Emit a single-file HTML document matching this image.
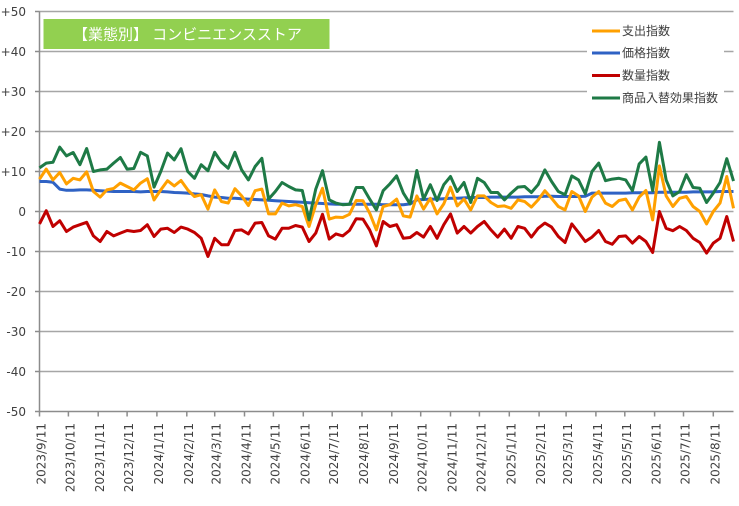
<!DOCTYPE html>
<html><head><meta charset="utf-8"><style>
html,body{margin:0;padding:0;background:#fff;}
svg{display:block;}
.yl{font-family:"DejaVu Sans","Liberation Sans",sans-serif;font-size:12px;fill:#404040;}
.xl{font-family:"DejaVu Sans","Liberation Sans",sans-serif;font-size:12px;fill:#404040;}
.lg{font-family:"Liberation Sans","Noto Sans CJK JP",sans-serif;font-size:12px;fill:#404040;}
</style></head><body>
<svg width="739" height="506" viewBox="0 0 739 506" xmlns="http://www.w3.org/2000/svg">
<rect width="739" height="506" fill="#fff"/>
<g stroke="#a6a6a6" stroke-width="1.5">
<line x1="39.5" y1="11.5" x2="733.5" y2="11.5"/>
<line x1="39.5" y1="51.5" x2="733.5" y2="51.5"/>
<line x1="39.5" y1="91.5" x2="733.5" y2="91.5"/>
<line x1="39.5" y1="131.5" x2="733.5" y2="131.5"/>
<line x1="39.5" y1="171.5" x2="733.5" y2="171.5"/>
<line x1="39.5" y1="211.5" x2="733.5" y2="211.5"/>
<line x1="39.5" y1="251.5" x2="733.5" y2="251.5"/>
<line x1="39.5" y1="291.5" x2="733.5" y2="291.5"/>
<line x1="39.5" y1="331.5" x2="733.5" y2="331.5"/>
<line x1="39.5" y1="371.5" x2="733.5" y2="371.5"/>
</g>
<g stroke="#8c8c8c" stroke-width="1.5">
<line x1="39.5" y1="411.5" x2="733.5" y2="411.5"/>
<line x1="39.5" y1="11.5" x2="39.5" y2="411.5"/>
<line x1="35" y1="11.5" x2="39.5" y2="11.5"/>
<line x1="35" y1="51.5" x2="39.5" y2="51.5"/>
<line x1="35" y1="91.5" x2="39.5" y2="91.5"/>
<line x1="35" y1="131.5" x2="39.5" y2="131.5"/>
<line x1="35" y1="171.5" x2="39.5" y2="171.5"/>
<line x1="35" y1="211.5" x2="39.5" y2="211.5"/>
<line x1="35" y1="251.5" x2="39.5" y2="251.5"/>
<line x1="35" y1="291.5" x2="39.5" y2="291.5"/>
<line x1="35" y1="331.5" x2="39.5" y2="331.5"/>
<line x1="35" y1="371.5" x2="39.5" y2="371.5"/>
<line x1="35" y1="411.5" x2="39.5" y2="411.5"/>
<line x1="39.5" y1="411.5" x2="39.5" y2="416.5"/>
<line x1="68.4" y1="411.5" x2="68.4" y2="416.5"/>
<line x1="98.2" y1="411.5" x2="98.2" y2="416.5"/>
<line x1="127.1" y1="411.5" x2="127.1" y2="416.5"/>
<line x1="156.9" y1="411.5" x2="156.9" y2="416.5"/>
<line x1="186.8" y1="411.5" x2="186.8" y2="416.5"/>
<line x1="214.7" y1="411.5" x2="214.7" y2="416.5"/>
<line x1="244.5" y1="411.5" x2="244.5" y2="416.5"/>
<line x1="273.4" y1="411.5" x2="273.4" y2="416.5"/>
<line x1="303.3" y1="411.5" x2="303.3" y2="416.5"/>
<line x1="332.2" y1="411.5" x2="332.2" y2="416.5"/>
<line x1="362.0" y1="411.5" x2="362.0" y2="416.5"/>
<line x1="391.8" y1="411.5" x2="391.8" y2="416.5"/>
<line x1="420.7" y1="411.5" x2="420.7" y2="416.5"/>
<line x1="450.5" y1="411.5" x2="450.5" y2="416.5"/>
<line x1="479.4" y1="411.5" x2="479.4" y2="416.5"/>
<line x1="509.3" y1="411.5" x2="509.3" y2="416.5"/>
<line x1="539.1" y1="411.5" x2="539.1" y2="416.5"/>
<line x1="566.1" y1="411.5" x2="566.1" y2="416.5"/>
<line x1="595.9" y1="411.5" x2="595.9" y2="416.5"/>
<line x1="624.8" y1="411.5" x2="624.8" y2="416.5"/>
<line x1="654.6" y1="411.5" x2="654.6" y2="416.5"/>
<line x1="683.5" y1="411.5" x2="683.5" y2="416.5"/>
<line x1="713.3" y1="411.5" x2="713.3" y2="416.5"/>
</g>
<g class="yl" text-anchor="end">
<text x="26" y="16">+50</text>
<text x="26" y="56">+40</text>
<text x="26" y="96">+30</text>
<text x="26" y="136">+20</text>
<text x="26" y="176">+10</text>
<text x="26" y="216">0</text>
<text x="26" y="256">-10</text>
<text x="26" y="296">-20</text>
<text x="26" y="336">-30</text>
<text x="26" y="376">-40</text>
<text x="26" y="416">-50</text>
</g>
<g class="xl" text-anchor="end">
<text transform="translate(45.5,423) rotate(-90)">2023/9/11</text>
<text transform="translate(74.4,423) rotate(-90)">2023/10/11</text>
<text transform="translate(104.2,423) rotate(-90)">2023/11/11</text>
<text transform="translate(133.1,423) rotate(-90)">2023/12/11</text>
<text transform="translate(162.9,423) rotate(-90)">2024/1/11</text>
<text transform="translate(192.8,423) rotate(-90)">2024/2/11</text>
<text transform="translate(220.7,423) rotate(-90)">2024/3/11</text>
<text transform="translate(250.5,423) rotate(-90)">2024/4/11</text>
<text transform="translate(279.4,423) rotate(-90)">2024/5/11</text>
<text transform="translate(309.3,423) rotate(-90)">2024/6/11</text>
<text transform="translate(338.2,423) rotate(-90)">2024/7/11</text>
<text transform="translate(368.0,423) rotate(-90)">2024/8/11</text>
<text transform="translate(397.8,423) rotate(-90)">2024/9/11</text>
<text transform="translate(426.7,423) rotate(-90)">2024/10/11</text>
<text transform="translate(456.5,423) rotate(-90)">2024/11/11</text>
<text transform="translate(485.4,423) rotate(-90)">2024/12/11</text>
<text transform="translate(515.3,423) rotate(-90)">2025/1/11</text>
<text transform="translate(545.1,423) rotate(-90)">2025/2/11</text>
<text transform="translate(572.1,423) rotate(-90)">2025/3/11</text>
<text transform="translate(601.9,423) rotate(-90)">2025/4/11</text>
<text transform="translate(630.8,423) rotate(-90)">2025/5/11</text>
<text transform="translate(660.6,423) rotate(-90)">2025/6/11</text>
<text transform="translate(689.5,423) rotate(-90)">2025/7/11</text>
<text transform="translate(719.3,423) rotate(-90)">2025/8/11</text>
</g>
<g transform="translate(39.5,211.5) scale(6.738,-4)" fill="none" stroke-width="3" stroke-linejoin="round">
<polyline vector-effect="non-scaling-stroke" stroke="#2f62c4" points="0,7.5 1,7.5 2,7.3 3,5.6 4,5.3 5,5.3 6,5.4 7,5.4 8,5.3 9,5.2 10,5.1 11,5 12,5 13,5 14,5 15,4.9 16,5 17,5 18,5 19,4.9 20,4.75 21,4.7 22,4.6 23,4.4 24,4.25 25,3.9 26,3.6 27,3.5 28,3.3 29,3.3 30,3.2 31,3.1 32,3 33,2.9 34,2.8 35,2.7 36,2.6 37,2.5 38,2.4 39,2.3 40,2.2 41,2.1 42,2 43,1.9 44,1.8 45,1.8 46,1.8 47,1.8 48,1.8 49,1.8 50,1.8 51,1.7 52,1.7 53,1.7 54,1.7 55,1.9 56,2.9 57,3 58,3.1 59,3.1 60,3.2 61,3.3 62,3.3 63,3.4 64,3.5 65,3.5 66,3.5 67,3.6 68,3.6 69,3.6 70,3.6 71,3.6 72,3.7 73,3.7 74,3.7 75,3.8 76,3.8 77,3.75 78,3.75 79,3.75 80,3.75 81,3.8 82,4.6 83,4.6 84,4.6 85,4.6 86,4.6 87,4.6 88,4.7 89,4.7 90,4.7 91,4.7 92,4.8 93,4.8 94,4.8 95,4.8 96,4.8 97,4.9 98,4.9 99,4.9 100,4.9 101,5 102,5 103,5"/>
<polyline vector-effect="non-scaling-stroke" stroke="#c00000" points="0,-3.1 1,0.2 2,-3.75 3,-2.3 4,-5 5,-3.9 6,-3.3 7,-2.7 8,-6.1 9,-7.5 10,-5 11,-6.1 12,-5.4 13,-4.75 14,-5 15,-4.75 16,-3.3 17,-6.25 18,-4.4 19,-4.2 20,-5.25 21,-3.9 22,-4.4 23,-5.25 24,-6.7 25,-11.25 26,-6.7 27,-8.3 28,-8.3 29,-4.75 30,-4.6 31,-5.6 32,-2.9 33,-2.75 34,-6.1 35,-6.9 36,-4.2 37,-4.2 38,-3.5 39,-3.9 40,-7.5 41,-5.4 42,-0.7 43,-6.9 44,-5.6 45,-6.1 46,-4.75 47,-1.8 48,-1.9 49,-4.6 50,-8.6 51,-2.5 52,-3.75 53,-3.3 54,-6.7 55,-6.5 56,-5.25 57,-6.4 58,-3.75 59,-6.7 60,-3.3 61,-0.6 62,-5.4 63,-3.75 64,-5.4 65,-3.75 66,-2.5 67,-4.6 68,-6.4 69,-4.4 70,-6.7 71,-3.75 72,-4.2 73,-6.4 74,-4.2 75,-2.9 76,-3.9 77,-6.25 78,-7.75 79,-3.1 80,-5.25 81,-7.5 82,-6.4 83,-4.75 84,-7.5 85,-8.2 86,-6.25 87,-6.1 88,-7.9 89,-6.25 90,-7.5 91,-10.25 92,0 93,-4.2 94,-4.8 95,-3.75 96,-4.75 97,-6.7 98,-7.75 99,-10.4 100,-7.9 101,-6.7 102,-1.25 103,-7.5"/>
<polyline vector-effect="non-scaling-stroke" stroke="#ffa000" points="0,8.1 1,10.6 2,7.9 3,9.75 4,6.9 5,8.3 6,7.9 7,9.9 8,5 9,3.6 10,5.4 11,5.75 12,7.1 13,6.25 14,5.4 15,7.1 16,8.2 17,2.9 18,5.4 19,7.7 20,6.4 21,7.75 22,5.4 23,3.75 24,4.2 25,0.6 26,5.4 27,2.5 28,2.1 29,5.7 30,3.9 31,1.5 32,5.2 33,5.6 34,-0.6 35,-0.6 36,2.1 37,1.4 38,1.7 39,1.25 40,-3.75 41,1.7 42,5.8 43,-1.9 44,-1.4 45,-1.5 46,-0.7 47,2.75 48,2.7 49,-0.4 50,-4.6 51,1.25 52,1.7 53,3.1 54,-1.1 55,-1.4 56,3.9 57,0.6 58,3.3 59,-0.6 60,1.9 61,6.1 62,1.4 63,3.1 64,0.4 65,3.9 66,3.9 67,2.25 68,1.25 69,1.4 70,0.8 71,2.9 72,2.5 73,1.1 74,2.9 75,5.2 76,3.3 77,1.25 78,0.4 79,5 80,3.9 81,0 82,3.6 83,5 84,2.1 85,1.25 86,2.75 87,3.1 88,0.4 89,3.6 90,5.25 91,-2.1 92,11.4 93,3.9 94,1.25 95,3.3 96,3.75 97,1.25 98,0 99,-3.1 100,0 101,2.1 102,8.75 103,0.8"/>
<polyline vector-effect="non-scaling-stroke" stroke="#1e7a46" points="0,10.9 1,12.1 2,12.3 3,16.1 4,13.9 5,14.75 6,11.7 7,15.75 8,10 9,10.4 10,10.6 11,12.1 12,13.5 13,10.6 14,10.75 15,14.8 16,13.9 17,6.1 18,10 19,14.6 20,12.9 21,15.7 22,10 23,8.3 24,11.7 25,10.2 26,14.8 27,12.3 28,10.8 29,14.8 30,10.4 31,7.9 32,11.25 33,13.3 34,3.1 35,5 36,7.25 37,6.25 38,5.4 39,5.25 40,-2.1 41,5.6 42,10.2 43,2.9 44,2.1 45,1.7 46,1.8 47,6 48,6 49,3.1 50,0.4 51,5.2 52,6.9 53,8.9 54,4.6 55,1.9 56,10.25 57,3.1 58,6.7 59,2.75 60,6.7 61,8.75 62,5 63,7.25 64,2.25 65,8.3 66,7.25 67,4.75 68,4.75 69,2.9 70,4.6 71,6.1 72,6.25 73,4.75 74,6.7 75,10.4 76,7.5 77,5 78,4.2 79,8.9 80,7.9 81,4.4 82,10 83,12.1 84,7.7 85,8.1 86,8.3 87,7.9 88,5.2 89,11.9 90,13.6 91,5.2 92,17.3 93,7.9 94,3.9 95,5 96,9.2 97,6 98,5.8 99,2.25 100,4.6 101,7.25 102,13.2 103,7.6"/>
</g>
<rect x="43.5" y="19" width="286" height="30" fill="#92d050"/>
<text x="73" y="39.5" font-family="'Liberation Sans','Noto Sans CJK JP',sans-serif" font-size="15" fill="#ffffff">【業態別】 コンビニエンスストア</text>
<rect x="587" y="20" width="137" height="90" fill="#fff"/>
<g stroke-width="3">
<line x1="592" y1="31" x2="620" y2="31" stroke="#ffa000"/>
<line x1="592" y1="53" x2="620" y2="53" stroke="#2f62c4"/>
<line x1="592" y1="75.5" x2="620" y2="75.5" stroke="#c00000"/>
<line x1="592" y1="98" x2="620" y2="98" stroke="#1e7a46"/>
</g>
<g class="lg">
<text x="622" y="35">支出指数</text>
<text x="622" y="57">価格指数</text>
<text x="622" y="79.5">数量指数</text>
<text x="622" y="102">商品入替効果指数</text>
</g>
</svg>
</body></html>
